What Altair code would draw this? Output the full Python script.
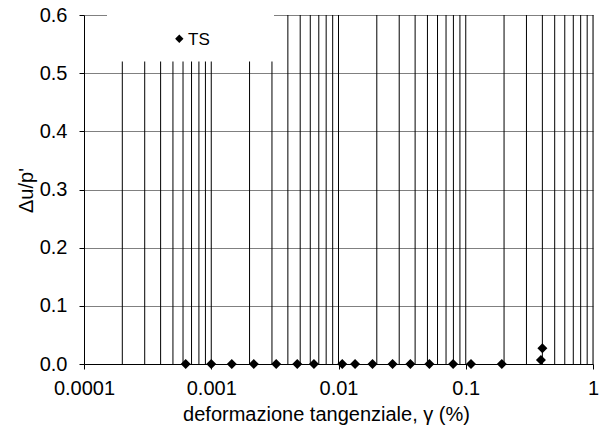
import altair as alt
import pandas as pd

# ---- data ----
strain = [0.00063, 0.001, 0.00145, 0.00216, 0.00324, 0.00474, 0.00641,
          0.0107, 0.0135, 0.0185, 0.0266, 0.0367, 0.0518, 0.0796,
          0.110, 0.192, 0.39, 0.40]
ratio = [0.0, 0.0, 0.0, 0.0, 0.0, 0.0, 0.0,
         0.0, 0.0, 0.0, 0.0, 0.0, 0.0, 0.0,
         0.0, 0.0, 0.007, 0.027]
series_name = "TS"

grid_x = [0.0002, 0.0003, 0.0004, 0.0005, 0.0006, 0.0007, 0.0008, 0.0009,
          0.001, 0.002, 0.003, 0.004, 0.005, 0.006, 0.007, 0.008, 0.009,
          0.01, 0.02, 0.03, 0.04, 0.05, 0.06, 0.07, 0.08, 0.09,
          0.1, 0.2, 0.3, 0.4, 0.5, 0.6, 0.7, 0.8, 0.9, 1.0]
x_ticks = [0.0001, 0.001, 0.01, 0.1, 1]
x_tick_labels = ["0.0001", "0.001", "0.01", "0.1", "1"]
y_ticks = [0.0, 0.1, 0.2, 0.3, 0.4, 0.5, 0.6]

x_title = "deformazione tangenziale, \u03b3 (%)"
y_title = "\u0394u/p'"

FONT = "Liberation Sans"
W, H = 509, 349

# label expression built from the tick lists
expr = "''"
for v, lab in reversed(list(zip(x_ticks, x_tick_labels))):
    expr = f"(abs(log(datum.value) - log({v})) < 0.01 ? '{lab}' : {expr})"

xscale = alt.Scale(type="log", domain=[x_ticks[0], x_ticks[-1]])
yscale = alt.Scale(domain=[y_ticks[0], y_ticks[-1]])

df = pd.DataFrame({"strain": strain, "ratio": ratio})
gdf = pd.DataFrame({"g": grid_x})

x_axis = alt.Axis(values=x_ticks, labelExpr=expr, grid=False, tickSize=5,
                  tickColor="black", domainColor="black", labelColor="black",
                  labelFontSize=20, labelFont=FONT, labelPadding=9,
                  labelFlush=False, labelOverlap=False,
                  title=x_title, titleFont=FONT, titleFontSize=20,
                  titleFontWeight="normal", titleColor="black",
                  titleX=242, titleY=56, titleAlign="center",
                  titleBaseline="alphabetic")
y_axis = alt.Axis(values=y_ticks, format=".1f", grid=True, gridColor="#808080",
                  gridWidth=1, tickSize=5, tickColor="black",
                  domainColor="black", labelColor="black", labelFontSize=20,
                  labelFont=FONT, labelPadding=12,
                  title=y_title, titleFont=FONT, titleFontSize=20,
                  titleFontWeight="normal", titleColor="black",
                  titleX=-52, titleY=175, titleAlign="center",
                  titleBaseline="alphabetic", titleAngle=270)

grid = alt.Chart(gdf).mark_rule(color="black", strokeWidth=1).encode(
    x=alt.X("g:Q", scale=xscale, axis=x_axis),
    y=alt.Y(datum=y_ticks[0], scale=yscale, axis=y_axis),
    y2=alt.Y2(datum=y_ticks[-1]),
)

one = pd.DataFrame({"a": [0]})
cover = alt.Chart(one).mark_rect(color="white").encode(
    x=alt.value(23), x2=alt.value(190), y=alt.value(-8), y2=alt.value(46.5)
)

points = alt.Chart(df).mark_point(shape="diamond", filled=True, size=100,
                                  color="black", opacity=1).encode(
    x=alt.X("strain:Q", scale=xscale),
    y=alt.Y("ratio:Q", scale=yscale),
)

leg_sym = alt.Chart(one).mark_point(shape="diamond", filled=True, size=70,
                                    color="black", opacity=1).encode(
    x=alt.value(95.3), y=alt.value(23.7)
)
leg_txt = alt.Chart(pd.DataFrame({"t": [series_name]})).mark_text(
    align="left", baseline="alphabetic", font=FONT, fontSize=17, color="black"
).encode(x=alt.value(104), y=alt.value(29.5), text="t:N")

chart = alt.layer(grid, cover, points, leg_sym, leg_txt).properties(
    width=W, height=H,
    autosize=alt.AutoSizeParams(type="none"),
    padding={"left": 76, "top": 7, "right": 10, "bottom": 64},
).configure_view(stroke=None).configure(background="white")

chart.save("out.html", embed_options={"renderer": "svg", "actions": False})
